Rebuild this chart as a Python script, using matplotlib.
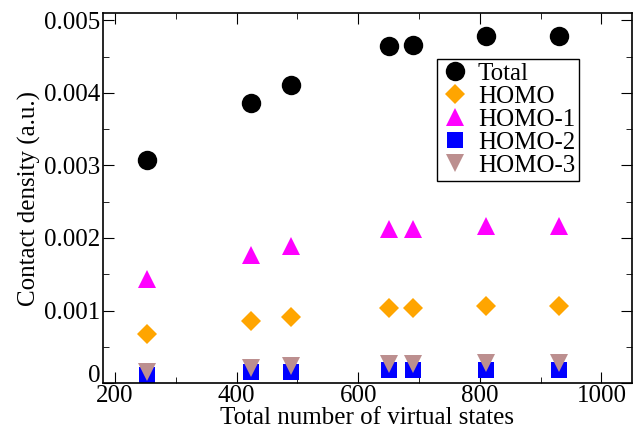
import matplotlib
matplotlib.use("Agg")
import matplotlib.pyplot as plt
import matplotlib.transforms as mtransforms
from matplotlib.ticker import MultipleLocator, FuncFormatter

plt.rcParams['font.family'] = ['Liberation Serif', 'DejaVu Serif']

x_states = [253, 423, 490, 650, 690, 810, 930]
total = [0.00307, 0.00386, 0.00411, 0.00465, 0.00466, 0.00478, 0.00478]
homo = [0.00068, 0.00086, 0.00091, 0.00103, 0.00103, 0.00106, 0.00106]
homo1 = [0.00144, 0.00177, 0.00189, 0.00212, 0.00213, 0.00217, 0.00217]
homo2 = [0.00011, 0.00015, 0.00016, 0.00018, 0.00018, 0.00018, 0.00018]
homo3 = [0.00015, 0.00021, 0.00023, 0.00026, 0.00026, 0.00028, 0.00028]

fig = plt.figure(figsize=(6.35, 4.32), dpi=100)
ax = fig.add_axes([0.162, 0.113, 0.833, 0.857])

ax.plot(x_states, total, 'o', color='black', ms=14, mew=0, label='Total')
ax.plot(x_states, homo, 'D', color='#ffa500', ms=10, mew=0, label='HOMO')
ax.plot(x_states, homo1, '^', color='#ff00ff', ms=13, mew=0, label='HOMO-1')
ax.plot(x_states, homo2, 's', color='#0000ff', ms=12, mew=0, label='HOMO-2')
ax.plot(x_states, homo3, 'v', color='#bc8f8f', ms=13, mew=0, label='HOMO-3')

ax.set_xlim(180, 1050)
ax.set_ylim(0, 0.0051)
ax.xaxis.set_major_locator(MultipleLocator(200))
ax.xaxis.set_minor_locator(MultipleLocator(100))
ax.yaxis.set_major_locator(MultipleLocator(0.001))
ax.yaxis.set_minor_locator(MultipleLocator(0.0005))
ax.yaxis.set_major_formatter(FuncFormatter(lambda v, p: '0' if abs(v) < 1e-12 else f'{v:.3f}'))
ax.tick_params(which='both', direction='in', top=True, right=True, labelsize=18)
ax.tick_params(which='major', length=8)
ax.tick_params(axis='x', which='major', pad=1)
ax.tick_params(axis='y', which='major', pad=2)
ax.tick_params(which='minor', length=4)
for s in ax.spines.values():
    s.set_linewidth(1.2)

ax.set_xlabel('Total number of virtual states', fontsize=18, labelpad=0)
ax.set_ylabel('Contact density (a.u.)', fontsize=18, labelpad=2)

leg = ax.legend(loc='upper left', bbox_to_anchor=(0.631, 0.876), fontsize=18,
                frameon=True, fancybox=False, edgecolor='black', framealpha=1,
                labelspacing=0.02, handletextpad=0.3, borderpad=0.15,
                handlelength=1.2, borderaxespad=0)
leg.get_frame().set_linewidth(1.0)

fig.canvas.draw()
for lbl in ax.get_yticklabels():
    if lbl.get_text() == '0':
        lbl.set_transform(lbl.get_transform() +
                          mtransforms.ScaledTranslation(0, 7 / 72, fig.dpi_scale_trans))

fig.savefig('out.png', dpi=100)
